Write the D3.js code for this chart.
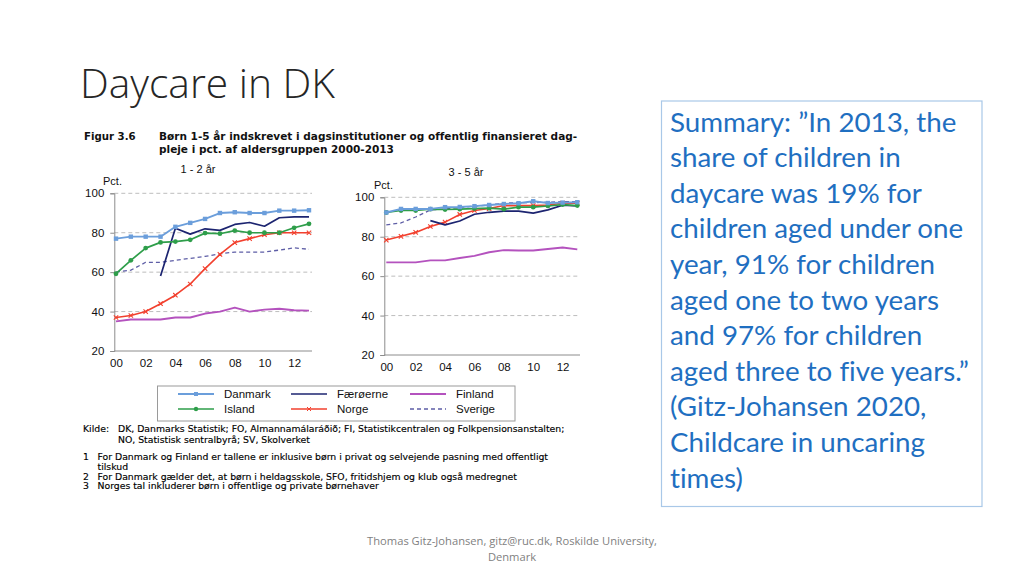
<!DOCTYPE html>
<html><head><meta charset="utf-8">
<script src="https://cdn.jsdelivr.net/npm/d3@7"></script>
<style>body{margin:0;background:#fff}svg{display:block}text{font-variant-ligatures:none}</style>
</head><body>
<svg id="c" width="1024" height="576"></svg>
<script>
// ---------- DATA ----------
const years = [0,1,2,3,4,5,6,7,8,9,10,11,12,13];
const xTickLabels = ["00","02","04","06","08","10","12"];
const yTicks = [20,40,60,80,100];
const seriesNames = ["Danmark","Færøerne","Finland","Island","Norge","Sverige"];

// 1 - 2 år
const dk12 = [77,78,78,78,83,85,87,90,90.4,90,90,91.2,91.2,91.4];
const fo12 = [null,null,null,58,82.3,79.3,82,81.2,84.2,85.2,83.3,87.6,88,88];
const fi12 = [35,36,36,36,37,37,39,40,42,40,41,41.4,40.7,40.5];
const is12 = [59.2,66,72.2,75.1,75.5,76.4,79.8,79.5,81.1,80,80,80,82.5,84.5];
const no12 = [37,38,40,44,48.3,54,61.8,69,75,77,79,80,80,80];
const sv12 = [60,61,65,65,66,67,68,69.3,70.2,70.2,70.2,71.2,72.3,71.6];

// 3 - 5 år
const dk35 = [92.3,94.1,94.1,94.1,95,95.1,95.5,96.1,96.6,97,98,97.1,97.3,97.5];
const fo35 = [null,null,null,88.2,86,88,91.4,92.4,93,93,92,93.6,96,95.6];
const fi35 = [67,67,67,68,68,69.2,70.3,72.1,73.2,73,73,73.8,74.5,73.6];
const is35 = [92.3,93.3,93.3,94,93.8,94,94.3,94.5,94,95,95,95.6,96.3,95.8];
const no35 = [78.3,80.2,82.2,85.2,87.4,91.3,93.3,94.3,95.8,95.8,95.8,96.1,97,97];
const sv35 = [86,87,90,93.6,94.1,94.8,95.5,96.1,97,97.3,97.3,97.5,97.8,97.8];

const summaryLines = ["Summary: ”In 2013, the","share of children in","daycare was 19% for","children aged under one","year, 91% for children","aged one to two years","and 97% for children","aged three to five years.”","(Gitz-Johansen 2020,","Childcare in uncaring","times)"];
const noteLines = [
  ["Kilde:","DK, Danmarks Statistik; FO, Almannamálaráðið; FI, Statistikcentralen og Folkpensionsanstalten;"],
  ["","NO, Statistisk sentralbyrå; SV, Skolverket"],
  ["1","For Danmark og Finland er tallene er inklusive børn i privat og selvejende pasning med offentligt"],
  ["","tilskud"],
  ["2","For Danmark gælder det, at børn i heldagsskole, SFO, fritidshjem og klub også medregnet"],
  ["3","Norges tal inkluderer børn i offentlige og private børnehaver"]
];

// ---------- STYLE ----------
const style = {
  "Danmark": {color:"#6b9edb", dash:null, marker:"square", w:1.9},
  "Færøerne":{color:"#1c2470", dash:null, marker:null, w:1.7},
  "Finland": {color:"#b452be", dash:null, marker:null, w:1.9},
  "Island":  {color:"#2e9e4a", dash:null, marker:"circle", w:1.7},
  "Norge":   {color:"#f2402e", dash:null, marker:"x", w:1.6},
  "Sverige": {color:"#5e5ea6", dash:"4,3", marker:null, w:1.3}
};

const svg = d3.select("#c");
svg.append("rect").attr("width",1024).attr("height",576).attr("fill","#fff");

function fitFont(sel, size, target){
  sel.attr("font-size", size);
  const w = sel.node().getComputedTextLength();
  const s = size*target/w;
  sel.attr("font-size", s);
  return s;
}

// Title
const title = svg.append("text").attr("x",80).attr("y",98)
  .attr("font-family","'Open Sans', sans-serif").attr("font-weight",300)
  .attr("fill","#262626").text("Daycare in DK");
fitFont(title, 40, 255);

// Figure header
const hdrFont = "'DejaVu Sans', Verdana, sans-serif";
svg.append("text").attr("x",84).attr("y",139.5).attr("font-family",hdrFont)
  .attr("font-weight","bold").attr("font-size",10.2).attr("fill","#111").text("Figur 3.6");
const h1 = svg.append("text").attr("x",159).attr("y",139.5).attr("font-family",hdrFont)
  .attr("font-weight","bold").attr("fill","#111")
  .text("Børn 1-5 år indskrevet i dagsinstitutioner og offentlig finansieret dag-");
const hs = fitFont(h1, 10.5, 419);
svg.append("text").attr("x",159).attr("y",152.5).attr("font-family",hdrFont)
  .attr("font-weight","bold").attr("font-size",hs).attr("fill","#111")
  .text("pleje i pct. af aldersgruppen 2000-2013");

// ---------- Charts ----------
const axisFont = "'Liberation Sans', Arial, sans-serif";
function drawPanel(cfg){
  const x = d3.scaleLinear().domain([0,13]).range(cfg.xr);
  const y = d3.scaleLinear().domain([20,100]).range(cfg.yr);
  const g = svg.append("g");
  g.append("text").attr("x",cfg.subX).attr("y",cfg.subY).attr("text-anchor","middle")
    .attr("font-family",axisFont).attr("font-size",11).attr("fill","#111").text(cfg.sub);
  g.append("text").attr("x",cfg.pctX).attr("y",cfg.pctY)
    .attr("font-family",axisFont).attr("font-size",11).attr("fill","#111").text("Pct.");
  g.selectAll("line.grid").data(yTicks.filter(d=>d>20)).join("line")
    .attr("x1",cfg.axX).attr("x2",cfg.gridEnd).attr("y1",d=>y(d)).attr("y2",d=>y(d))
    .attr("stroke","#bdbdbd").attr("stroke-width",1).attr("stroke-dasharray","4,3");
  const ya = g.append("g").attr("transform",`translate(${cfg.axX},0)`)
    .call(d3.axisLeft(y).tickValues(yTicks).tickSize(4).tickPadding(6));
  ya.select(".domain").attr("stroke","#8c8c8c");
  ya.selectAll(".tick line").attr("stroke","#8c8c8c");
  ya.selectAll("text").attr("font-family",axisFont).attr("font-size",11.5).attr("fill","#111");
  const xa = g.append("g").attr("transform",`translate(0,${y(20)})`)
    .call(d3.axisBottom(x).tickValues(d3.range(0,13,2)).tickFormat((d,i)=>xTickLabels[i]).tickSize(0).tickPadding(8));
  xa.select(".domain").remove();
  xa.selectAll("text").attr("font-family",axisFont).attr("font-size",11.5).attr("fill","#111");
  g.append("line").attr("x1",cfg.axX).attr("x2",cfg.gridEnd).attr("y1",y(20)).attr("y2",y(20))
    .attr("stroke","#8c8c8c");
  const order = ["Sverige","Finland","Norge","Færøerne","Island","Danmark"];
  order.forEach(name=>{
    const vals = cfg.data[name];
    const st = style[name];
    const pts = years.map((yr,i)=>({yr, v:vals[i]})).filter(d=>d.v!=null);
    const line = d3.line().x(d=>x(d.yr)).y(d=>y(d.v));
    g.append("path").datum(pts).attr("d",line).attr("fill","none")
      .attr("stroke",st.color).attr("stroke-width",st.w)
      .attr("stroke-dasharray",st.dash).attr("stroke-linejoin","round");
    if(st.marker==="square"){
      g.selectAll(null).data(pts).join("rect").attr("x",d=>x(d.yr)-2.2).attr("y",d=>y(d.v)-2.2)
        .attr("width",4.4).attr("height",4.4).attr("fill",st.color);
    } else if(st.marker==="circle"){
      g.selectAll(null).data(pts).join("circle").attr("cx",d=>x(d.yr)).attr("cy",d=>y(d.v))
        .attr("r",2.4).attr("fill",st.color);
    } else if(st.marker==="x"){
      g.selectAll(null).data(pts).join("path")
        .attr("d",d=>{const cx=x(d.yr),cy=y(d.v),r=2.2;return `M${cx-r},${cy-r}L${cx+r},${cy+r}M${cx-r},${cy+r}L${cx+r},${cy-r}`;})
        .attr("stroke",st.color).attr("stroke-width",1.1);
    }
  });
}

drawPanel({xr:[116,309], yr:[351,193.3], axX:114.3, gridEnd:312, sub:"1 - 2 år", subX:198, subY:173,
  pctX:103, pctY:185,
  data:{"Danmark":dk12,"Færøerne":fo12,"Finland":fi12,"Island":is12,"Norge":no12,"Sverige":sv12}});
drawPanel({xr:[386.3,577.3], yr:[355,197.3], axX:384.3, gridEnd:580, sub:"3 - 5 år", subX:466, subY:176,
  pctX:374, pctY:189,
  data:{"Danmark":dk35,"Færøerne":fo35,"Finland":fi35,"Island":is35,"Norge":no35,"Sverige":sv35}});

// ---------- Legend ----------
const lg = svg.append("g");
lg.append("rect").attr("x",157.5).attr("y",386).attr("width",357.5).attr("height",35)
  .attr("fill","#fff").attr("stroke","#9a9a9a").attr("stroke-width",1);
const legPos = {"Danmark":[0,0],"Færøerne":[1,0],"Finland":[2,0],"Island":[0,1],"Norge":[1,1],"Sverige":[2,1]};
const colX = [178,291,410], rowY = [394,409];
seriesNames.forEach(name=>{
  const [c,r] = legPos[name], st = style[name];
  const lx = colX[c], ly = rowY[r];
  lg.append("line").attr("x1",lx).attr("x2",lx+36).attr("y1",ly).attr("y2",ly)
    .attr("stroke",st.color).attr("stroke-width",st.w).attr("stroke-dasharray",st.dash);
  const mx = lx+18;
  if(st.marker==="square") lg.append("rect").attr("x",mx-2).attr("y",ly-2).attr("width",4).attr("height",4).attr("fill",st.color);
  if(st.marker==="circle") lg.append("circle").attr("cx",mx).attr("cy",ly).attr("r",2.2).attr("fill",st.color);
  if(st.marker==="x") lg.append("path").attr("d",`M${mx-2},${ly-2}L${mx+2},${ly+2}M${mx-2},${ly+2}L${mx+2},${ly-2}`).attr("stroke",st.color);
  lg.append("text").attr("x",lx+46).attr("y",ly+4).attr("font-family",axisFont).attr("font-size",11.5)
    .attr("fill","#111").text(name);
});

// ---------- Notes ----------
const noteY = [432,443,460,470,479.5,489];
const ng = svg.append("g").attr("font-family",hdrFont).attr("fill","#000");
let noteSize = 9;
noteLines.forEach((ln,i)=>{
  ng.append("text").attr("x",83).attr("y",noteY[i]).text(ln[0]);
  const tx = ng.append("text").attr("x", i<2?118:97.5).attr("y",noteY[i]).text(ln[1]);
  if(i===0) noteSize = fitFont(tx, 9, 447);
});
ng.selectAll("text").attr("font-size",noteSize).attr("stroke","#000").attr("stroke-width",0.15);

// ---------- Summary box ----------
svg.append("rect").attr("x",661.5).attr("y",101).attr("width",320.5).attr("height",405.5)
  .attr("fill","#fff").attr("stroke","#a9c8e8").attr("stroke-width",1.2);
const sg = svg.append("g").attr("font-family","Lato, 'Open Sans', sans-serif").attr("fill","#1f6fc1");
const sLines = sg.selectAll("text").data(summaryLines).join("text")
  .attr("x",670).attr("y",(d,i)=>131.5+i*35.6).text(d=>d);
const ref = sLines.filter((d,i)=>i===7);
const ss = fitFont(ref, 26, 299);
sLines.attr("font-size",ss);

// ---------- Footer ----------
const f1 = svg.append("text").attr("x",512).attr("y",545).attr("text-anchor","middle")
  .attr("font-family","'Open Sans', sans-serif").attr("fill","#7f7f7f")
  .text("Thomas Gitz-Johansen, gitz@ruc.dk, Roskilde University,");
const fs = fitFont(f1, 11, 290);
svg.append("text").attr("x",512).attr("y",561).attr("text-anchor","middle")
  .attr("font-family","'Open Sans', sans-serif").attr("fill","#7f7f7f").attr("font-size",fs).text("Denmark");
</script>
</body></html>
